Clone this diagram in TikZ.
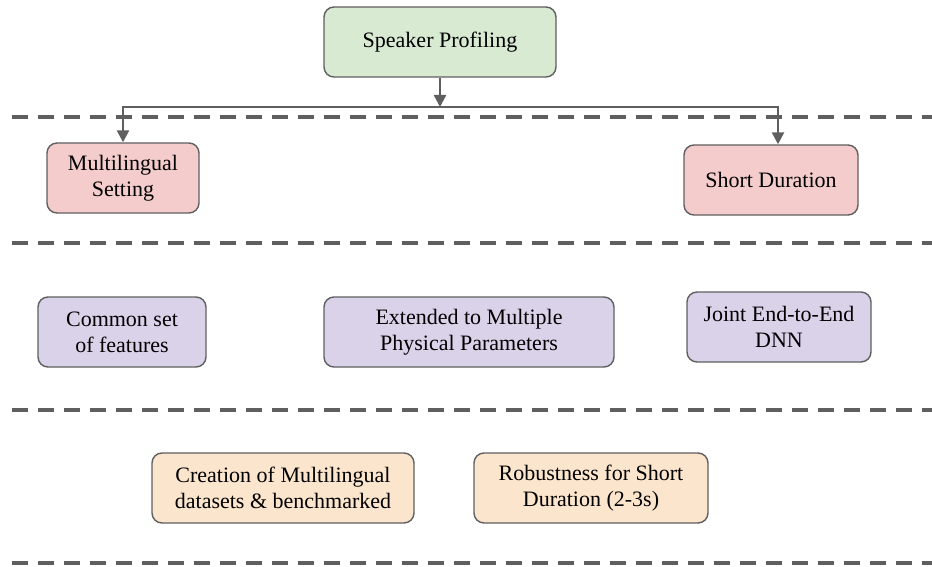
\documentclass[tikz,border=0pt]{standalone}
\usepackage{fontspec}
\setmainfont{Liberation Serif}
\usetikzlibrary{calc,arrows.meta}
\definecolor{linegray}{HTML}{5F5F5F}
\definecolor{boxgreen}{HTML}{D9EAD3}
\definecolor{boxpink}{HTML}{F4CCCC}
\definecolor{boxpurple}{HTML}{D9D2E9}
\definecolor{boxorange}{HTML}{FCE5CD}
\begin{document}
\begin{tikzpicture}[x=0.5pt,y=-0.5pt,
  box/.style={draw=linegray,line width=0.7pt,rounded corners=5pt,align=center,minimum height=35pt,font=\fontsize{11}{13}\selectfont},
  link/.style={draw=linegray,line width=1.2pt,-{Triangle[length=6pt,width=6pt]}},
  sep/.style={draw=linegray,line width=2pt,dash pattern=on 8pt off 5pt}]
\useasboundingbox (0,0) rectangle (932,567);
\foreach \y in {117,243,410,563} \draw[sep] (12,\y) -- (932,\y);
\node[box,fill=boxgreen,minimum width=116pt] (sp) at (440,42) {Speaker Profiling};
\node[box,fill=boxpink,minimum width=76pt] (ml) at (123,178) {Multilingual\\Setting};
\node[box,fill=boxpink,minimum width=87pt] (sd) at (771,180) {Short Duration};
\node[box,fill=boxpurple,minimum width=84pt] (cf) at (122,332) {Common set\\of features};
\node[box,fill=boxpurple,minimum width=145pt] (ep) at (469,332) {Extended to Multiple\\Physical Parameters};
\node[box,fill=boxpurple,minimum width=92pt] (jd) at (779,327) {Joint End-to-End\\DNN};
\node[box,fill=boxorange,minimum width=131pt] (cm) at (283,488) {Creation of Multilingual\\datasets \& benchmarked};
\node[box,fill=boxorange,minimum width=117pt] (rs) at (591,488) {Robustness for Short\\Duration (2-3s)};
\coordinate (bus) at (440,107);
\draw[link] (sp) -- (bus);
\draw[link] (bus) -| (ml);
\draw[link] (bus) -| ([xshift=3.5pt]sd.north);
\end{tikzpicture}
\end{document}
